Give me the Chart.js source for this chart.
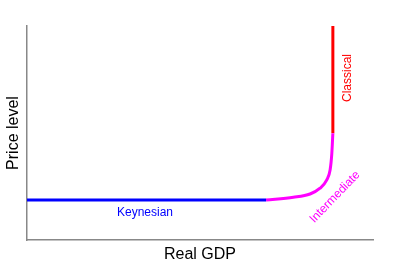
<!DOCTYPE html>
<html>
<head>
<meta charset="utf-8">
<script src="https://cdn.jsdelivr.net/npm/chart.js@4"></script>
<style>
    html, body { margin: 0; padding: 0; background: #fff; }
    #wrap { width: 400px; height: 267px; position: relative; }
</style>
</head>
<body>
<div id="wrap"><canvas id="chart"></canvas></div>
<script>
// Curve segments of the aggregate supply curve (x = real GDP, y = price level, both 0-100)
const keynesianX = [0, 69.1];
const keynesianY = [18.7, 18.7];

const intermediateX = [69.1, 77.0, 81.8, 84.7, 86.6, 87.6, 88.1, 88.4];
const intermediateY = [18.7, 19.95, 21.5, 24.2, 28.0, 32.7, 40.5, 49.9];

const classicalX = [88.4, 88.4];
const classicalY = [49.9, 100];

// Segment labels: text, anchor in data units, rotation in degrees
const labelTexts = ['Keynesian', 'Intermediate', 'Classical'];
const labelX = [34.1, 89.0, 92.8];
const labelY = [12.6, 20.1, 75.7];
const labelAngles = [0, -46, -90];
const labelColors = ['#0000ff', '#ff00ff', '#ff0000'];

const toPoints = (xs, ys) => xs.map((x, i) => ({ x, y: ys[i] }));

const segmentLabelsPlugin = {
    id: 'segmentLabels',
    afterDatasetsDraw: (chart) => {
        const { ctx, scales } = chart;
        ctx.save();
        ctx.font = '12px "Liberation Sans", Arial, sans-serif';
        ctx.textAlign = 'center';
        ctx.textBaseline = 'middle';
        labelTexts.forEach((text, i) => {
            const px = scales.x.getPixelForValue(labelX[i]);
            const py = scales.y.getPixelForValue(labelY[i]);
            ctx.save();
            ctx.translate(px, py);
            ctx.rotate(labelAngles[i] * Math.PI / 180);
            ctx.fillStyle = labelColors[i];
            ctx.fillText(text, 0, 0);
            ctx.restore();
        });
        ctx.restore();
    }
};

const titleFont = { family: '"Liberation Sans", Arial, sans-serif', size: 16 };

new Chart(document.getElementById('chart'), {
    type: 'scatter',
    data: {
        datasets: [
            {
                label: 'Keynesian',
                data: toPoints(keynesianX, keynesianY),
                borderColor: '#0000ff',
            },
            {
                label: 'Intermediate',
                data: toPoints(intermediateX, intermediateY),
                borderColor: '#ff00ff',
                cubicInterpolationMode: 'monotone',
            },
            {
                label: 'Classical',
                data: toPoints(classicalX, classicalY),
                borderColor: '#ff0000',
            },
        ],
    },
    options: {
        responsive: true,
        maintainAspectRatio: false,
        animation: false,
        showLine: true,
        datasets: {
            scatter: { pointRadius: 0, pointHoverRadius: 0, borderWidth: 3 }
        },
        layout: { padding: { top: 26, right: 27, left: 0, bottom: 0 } },
        scales: {
            x: {
                type: 'linear',
                min: 0,
                max: 100,
                ticks: { display: false },
                grid: { display: false, drawTicks: false },
                border: { display: true, color: '#888', width: 1.5 },
                title: {
                    display: true,
                    text: 'Real GDP',
                    color: '#000',
                    font: titleFont,
                    padding: { top: 5.4, bottom: 2.4 },
                },
            },
            y: {
                min: 0,
                max: 100,
                ticks: { display: false },
                grid: { display: false, drawTicks: false },
                border: { display: true, color: '#888', width: 1.5 },
                title: {
                    display: true,
                    text: 'Price level',
                    color: '#000',
                    font: titleFont,
                    padding: { top: 4, bottom: 3.8 },
                },
            },
        },
        plugins: {
            legend: { display: false },
            tooltip: { enabled: false },
        },
    },
    plugins: [segmentLabelsPlugin],
});
</script>
</body>
</html>
